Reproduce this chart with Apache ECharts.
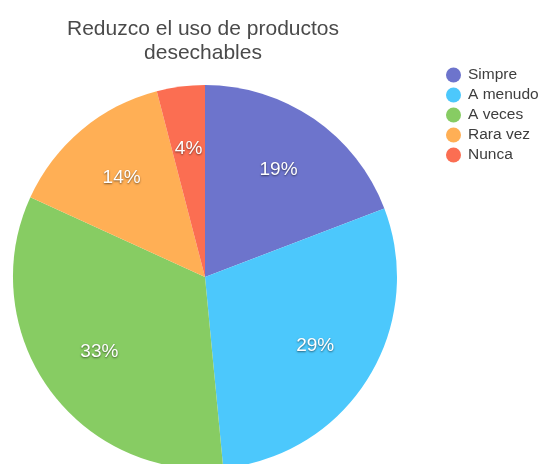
<!DOCTYPE html>
<html>
<head>
<meta charset="utf-8">
<script src="https://cdn.jsdelivr.net/npm/echarts@6/dist/echarts.min.js"></script>
<style>
  html, body { margin: 0; padding: 0; background: #fff; }
  #chart { width: 547px; height: 464px; }
</style>
</head>
<body>
<div id="chart"></div>
<script>
// Survey answers: "Reduzco el uso de productos desechables"
const categories = ['Simpre', 'A menudo', 'A veces', 'Rara vez', 'Nunca'];
const percentages = [19, 29, 33, 14, 4];
const colors = ['#6d74cc', '#4cc8fc', '#87cc63', '#ffaf55', '#fb6e52'];

const chart = echarts.init(document.getElementById('chart'), null, { renderer: 'canvas' });

const sliceData = categories.map((name, i) => ({
  name,
  value: percentages[i],
  itemStyle: { color: colors[i] }
}));

const center = [205, 277];
const R = 192;
const FONT = 'Liberation Sans, Arial, sans-serif';

chart.setOption({
  animation: false,
  color: colors,
  title: {
    text: 'Reduzco el uso de productos\ndesechables',
    left: 198,
    textAlign: 'center',
    top: 12,
    textStyle: {
      fontFamily: FONT,
      fontSize: 21,
      fontWeight: 'normal',
      color: '#4a4a4a',
      lineHeight: 24
    }
  },
  legend: {
    orient: 'vertical',
    left: 441,
    top: 62,
    icon: 'circle',
    itemWidth: 15,
    itemHeight: 15,
    itemGap: 4,
    selectedMode: false,
    textStyle: {
      fontFamily: FONT,
      fontSize: 15.5,
      color: '#3d3d3d',
      padding: [0, 0, 0, 2]
    },
    data: categories
  },
  series: [
    {
      // the pie slices
      type: 'pie',
      center,
      radius: [0, R],
      startAngle: 90,
      clockwise: true,
      silent: true,
      label: { show: false },
      labelLine: { show: false },
      itemStyle: { borderWidth: 0 },
      data: sliceData
    },
    {
      // percentage labels, placed at about two thirds of the radius
      type: 'pie',
      center,
      radius: [R * 0.32, R],
      startAngle: 90,
      clockwise: true,
      silent: true,
      legendHoverLink: false,
      itemStyle: { color: 'rgba(0,0,0,0)', borderWidth: 0 },
      label: {
        show: true,
        position: 'inside',
        formatter: '{c}%',
        fontFamily: FONT,
        fontSize: 19,
        color: '#ffffff',
        textShadowColor: 'rgba(0,0,0,0.55)',
        textShadowBlur: 2,
        textShadowOffsetX: 0,
        textShadowOffsetY: 1
      },
      labelLine: { show: false },
      data: categories.map((name, i) => ({ name: name + ' ', value: percentages[i] }))
    }
  ]
});
</script>
</body>
</html>
